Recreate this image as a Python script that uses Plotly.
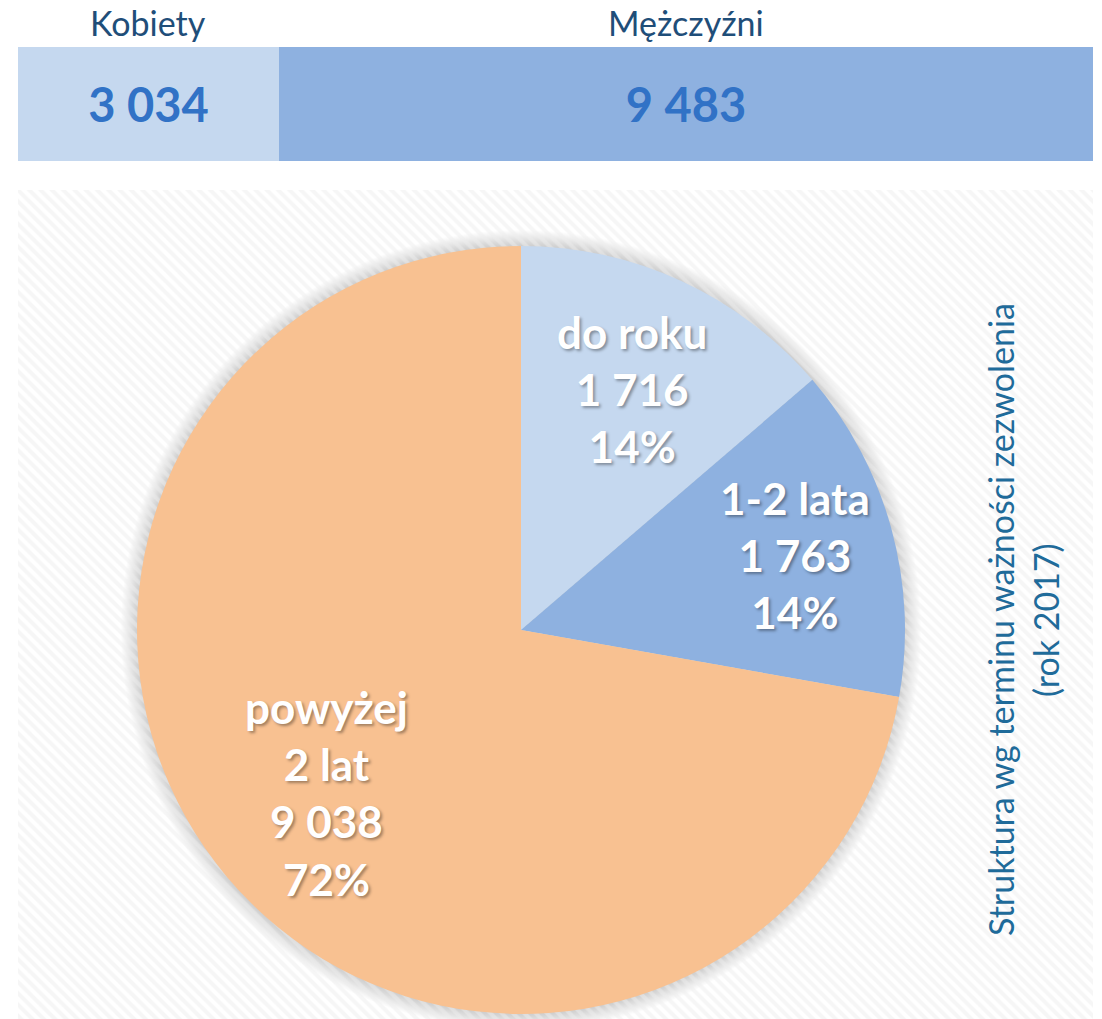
import math
import plotly.graph_objects as go

# ---------------- data ----------------
gender_labels = ["Kobiety", "Mężczyźni"]
gender_values = [3034, 9483]

slice_labels = ["do roku", "1-2 lata", "powyżej<br>2 lat"]
slice_values = [1716, 1763, 9038]

side_title_lines = ["Struktura wg terminu ważności zezwolenia", "(rok 2017)"]

# ---------------- style ----------------
W, H = 1102, 1019
FONT = "Lato"
gender_colors = ["#C5D8EF", "#8EB1E0"]
slice_colors = ["#C5D8EF", "#8EB1E0", "#F8C191"]
num_color = "#3172C6"
head_color = "#1F4E79"
side_color = "#1F6B9A"
label_radii = [0.69, 0.74, 0.66]
side_x = [1000, 1045]


def px(x):
    return x / W


def py(y):
    return 1 - y / H


def fmt(v):
    return f"{v:,}".replace(",", " ")


fig = go.Figure()

# --- top stacked bar ---
for lab, val, col in zip(gender_labels, gender_values, gender_colors):
    fig.add_trace(go.Bar(
        y=[""], x=[val], orientation="h", name=lab,
        marker=dict(color=col, line=dict(width=0)),
        text=[fmt(val)], textposition="inside", insidetextanchor="middle",
        textfont=dict(family=FONT, size=47, color=num_color, weight="bold"),
        xaxis="x", yaxis="y", showlegend=False, hoverinfo="skip",
    ))

total_g = sum(gender_values)
cum = 0
for lab, val in zip(gender_labels, gender_values):
    fig.add_annotation(
        x=cum + val / 2, xref="x", y=py(22), yref="paper",
        text=lab, showarrow=False,
        font=dict(family=FONT, size=34, color=head_color),
        xanchor="center", yanchor="middle",
    )
    cum += val

# --- hatched background panel ---
fig.add_trace(go.Bar(
    x=[0], y=[1], width=[1],
    marker=dict(color="rgba(0,0,0,0)", line=dict(width=0),
                pattern=dict(shape="\\", size=8, solidity=0.5,
                             fgcolor="#EEEEEE", bgcolor="rgba(0,0,0,0)",
                             fillmode="overlay")),
    xaxis="x2", yaxis="y2", showlegend=False, hoverinfo="skip",
))

# --- pie ---
cx, cy, R = 521, 630, 384
fig.add_trace(go.Pie(
    labels=slice_labels, values=slice_values,
    marker=dict(colors=slice_colors, line=dict(width=0)),
    sort=False, direction="clockwise", rotation=0,
    textinfo="none", hoverinfo="skip", showlegend=False,
    domain=dict(x=[px(cx - R), px(cx + R)], y=[py(cy + R), py(cy - R)]),
))

# soft shadow around pie
for d in range(1, 17):
    r = R + d
    fig.add_shape(
        type="circle", xref="paper", yref="paper", layer="below",
        x0=px(cx - r), x1=px(cx + r), y0=py(cy + r), y1=py(cy - r),
        fillcolor="rgba(0,0,0,0.011)", line=dict(width=0),
    )

# pie labels placed at the mid-angle of each slice
total_s = sum(slice_values)
acc = 0
for lab, val, lr in zip(slice_labels, slice_values, label_radii):
    mid = (acc + val / 2) / total_s * 2 * math.pi
    acc += val
    lx = cx + lr * R * math.sin(mid)
    ly = cy - lr * R * math.cos(mid)
    pct = round(val / total_s * 100)
    fig.add_annotation(
        x=px(lx), y=py(ly), xref="paper", yref="paper",
        text=f"{lab}<br>{fmt(val)}<br>{pct}%", showarrow=False,
        font=dict(family=FONT, size=44, color="white", weight="bold",
                  shadow="2px 2px 3px rgba(0,0,0,0.35)"),
        xanchor="center", yanchor="middle", align="center",
    )

# side title (two rotated lines)
for line, sx in zip(side_title_lines, side_x):
    fig.add_annotation(
        x=px(sx), y=py(620), xref="paper", yref="paper",
        text=line, showarrow=False, textangle=-90,
        font=dict(family=FONT, size=34, color=side_color),
        xanchor="center", yanchor="middle", align="center",
    )

hidden = dict(visible=False, showgrid=False, zeroline=False, fixedrange=True)
fig.update_layout(
    width=W, height=H,
    margin=dict(l=0, r=0, t=0, b=0),
    paper_bgcolor="white", plot_bgcolor="rgba(0,0,0,0)",
    barmode="stack", bargap=0,
    xaxis=dict(domain=[px(18), px(1093)], range=[0, total_g], **hidden),
    yaxis=dict(domain=[py(161), py(47)], range=[-0.5, 0.5], **hidden),
    xaxis2=dict(domain=[px(18), px(1093)], range=[-0.5, 0.5], anchor="y2", **hidden),
    yaxis2=dict(domain=[0, py(190)], range=[0, 1], anchor="x2", **hidden),
    showlegend=False,
)

fig.write_html(
    "out.html",
    config={"displayModeBar": False},
    post_script="document.body.style.margin='0';document.body.style.overflow='hidden';",
)
